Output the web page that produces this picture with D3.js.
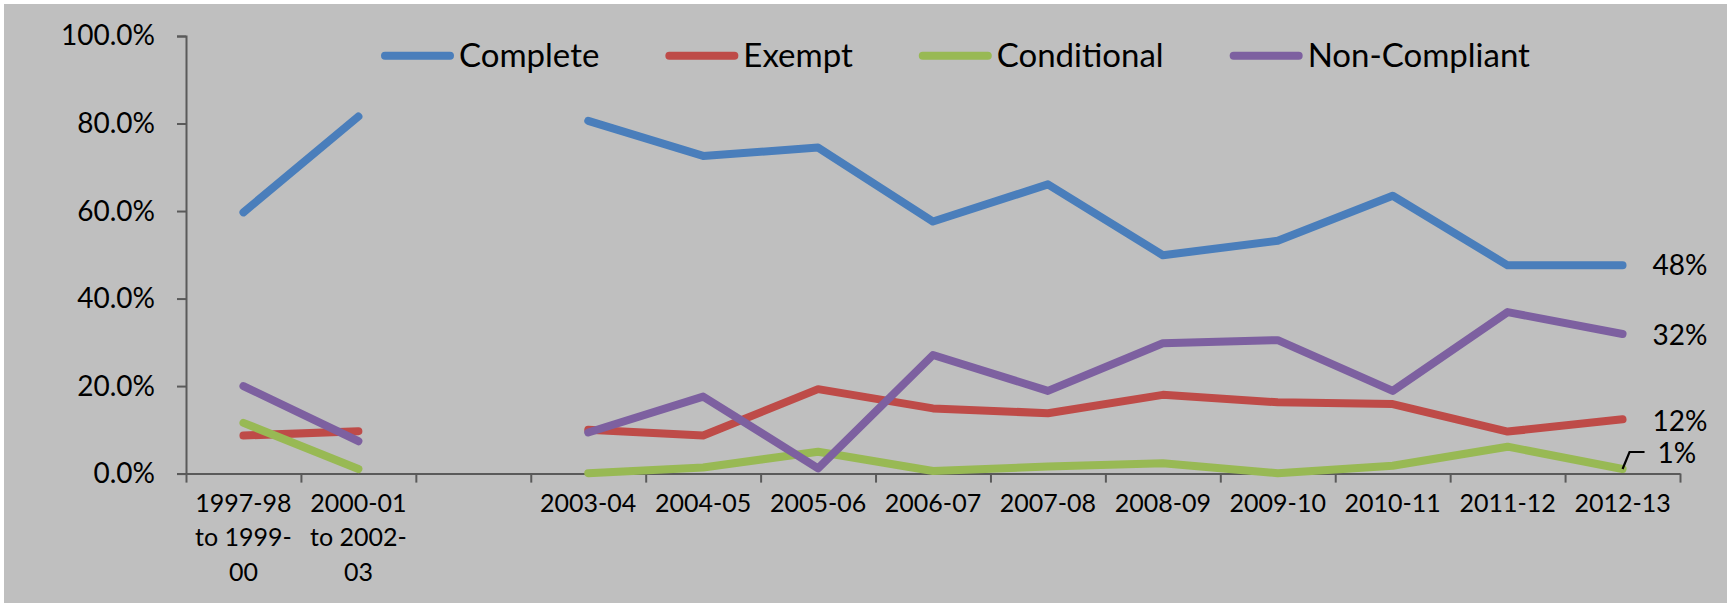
<!DOCTYPE html>
<html>
<head>
<meta charset="utf-8">
<script src="https://cdn.jsdelivr.net/npm/d3@7"></script>
<style>
  html, body { margin: 0; padding: 0; background: #ffffff; }
  svg { display: block; }
  text { font-family: Lato, "Open Sans", sans-serif; fill: #000; }
</style>
</head>
<body>
<svg id="chart" width="1727" height="603"></svg>
<script>
// Compliance status shares by reporting period (blank period leaves a gap)
const categories = [
  "1997-98 to 1999-00", "2000-01 to 2002-03", "",
  "2003-04", "2004-05", "2005-06", "2006-07", "2007-08",
  "2008-09", "2009-10", "2010-11", "2011-12", "2012-13"
];
const tickLabels = [
  ["1997-98", "to 1999-", "00"], ["2000-01", "to 2002-", "03"], [],
  ["2003-04"], ["2004-05"], ["2005-06"], ["2006-07"], ["2007-08"],
  ["2008-09"], ["2009-10"], ["2010-11"], ["2011-12"], ["2012-13"]
];
const complete      = [0.597, 0.816, null, 0.806, 0.726, 0.745, 0.576, 0.661, 0.499, 0.532, 0.635, 0.476, 0.476];
const exempt        = [0.087, 0.097, null, 0.100, 0.087, 0.193, 0.149, 0.138, 0.180, 0.163, 0.159, 0.096, 0.124];
const conditional   = [0.116, 0.0105, null, 0.001, 0.014, 0.050, 0.006, 0.016, 0.0235, 0.001, 0.018, 0.0615, 0.0105];
const nonCompliant  = [0.200, 0.074, null, 0.094, 0.176, 0.012, 0.271, 0.189, 0.298, 0.305, 0.189, 0.369, 0.319];
const seriesNames   = ["Complete", "Exempt", "Conditional", "Non-Compliant"];
const seriesColors  = ["#4a7ebb", "#be4b48", "#98b954", "#7d60a0"];
const yTicks        = [0, 0.2, 0.4, 0.6, 0.8, 1.0];

const series = [complete, exempt, conditional, nonCompliant].map((values, i) => ({
  name: seriesNames[i], color: seriesColors[i], values
}));

const svg = d3.select("#chart");

// chart area background
svg.append("rect")
  .attr("x", 4).attr("y", 4)
  .attr("width", 1723).attr("height", 599)
  .attr("fill", "#bfbfbf");

const plot = { left: 186, right: 1680, top: 36, bottom: 473.6 };

const x = d3.scaleBand().domain(d3.range(categories.length)).range([plot.left, plot.right]).padding(0);
const xEdge = d3.scaleLinear().domain([0, categories.length]).range([plot.left, plot.right]);
const y = d3.scaleLinear().domain([0, 1]).range([plot.bottom, plot.top]);
const cx = i => x(i) + x.bandwidth() / 2;

const axisColor = "#5a5a5a";

// y axis
const yAxis = svg.append("g")
  .attr("transform", `translate(${plot.left},0)`)
  .call(d3.axisLeft(y).tickValues(yTicks).tickFormat(d3.format(".1%")).tickSize(9).tickPadding(22));
yAxis.select(".domain").attr("stroke", axisColor).attr("stroke-width", 2);
yAxis.selectAll(".tick line").attr("stroke", axisColor).attr("stroke-width", 2);
yAxis.selectAll(".tick text")
  .style("font-family", "Lato, sans-serif").style("font-size", "28px").attr("fill", "#000");

// x axis: ticks sit between categories
const xAxis = svg.append("g")
  .attr("transform", `translate(0,${plot.bottom})`)
  .call(d3.axisBottom(xEdge).tickValues(d3.range(categories.length + 1)).tickFormat("").tickSize(9).tickSizeOuter(0));
xAxis.select(".domain").attr("stroke", axisColor).attr("stroke-width", 2);
xAxis.selectAll(".tick line").attr("stroke", axisColor).attr("stroke-width", 2);

// category labels centred under each band
const labelG = svg.append("g");
tickLabels.forEach((lines, i) => {
  const t = labelG.append("text")
    .attr("x", cx(i)).attr("y", plot.bottom + 38)
    .attr("text-anchor", "middle")
    .style("font-size", "25px");
  lines.forEach((ln, k) => {
    t.append("tspan").attr("x", cx(i)).attr("dy", k === 0 ? 0 : 34.5).text(ln);
  });
});

// series lines
const line = d3.line()
  .defined(d => d.v != null)
  .x(d => cx(d.i))
  .y(d => y(d.v));

svg.append("g").selectAll("path")
  .data(series)
  .join("path")
  .attr("d", s => line(s.values.map((v, i) => ({ i, v }))))
  .attr("fill", "none")
  .attr("stroke", s => s.color)
  .attr("stroke-width", 8)
  .attr("stroke-linecap", "round")
  .attr("stroke-linejoin", "round");

// end-of-line value labels
const pct = d3.format(".0%");
const last = categories.length - 1;
const labelShift = { "Complete": 0, "Exempt": 2, "Conditional": -16, "Non-Compliant": 1 };
series.forEach(s => {
  const v = s.values[last];
  const px = cx(last), py = y(v);
  const dy = labelShift[s.name];
  if (s.name === "Conditional") {
    // leader from the point up to the lifted label
    svg.append("path")
      .attr("d", d3.line()([[px, py], [px + 7, py + dy - 1], [px + 22, py + dy - 1]]))
      .attr("fill", "none").attr("stroke", "#000").attr("stroke-width", 2.2);
  }
  svg.append("text")
    .attr("x", px + (s.name === "Conditional" ? 35 : 30))
    .attr("y", py + dy)
    .attr("dy", "0.35em")
    .style("font-size", "28px")
    .text(pct(v));
});

// legend across the top
const legend = svg.append("g");
let lx = 381;
const ly = 55.7;
series.forEach(s => {
  legend.append("line")
    .attr("x1", lx + 4).attr("x2", lx + 69)
    .attr("y1", ly).attr("y2", ly)
    .attr("stroke", s.color).attr("stroke-width", 8).attr("stroke-linecap", "round");
  const t = legend.append("text")
    .attr("x", lx + 78).attr("y", ly).attr("dy", "0.35em")
    .style("font-size", "33px")
    .text(s.name);
  lx += 78 + t.node().getComputedTextLength() + 66;
});
</script>
</body>
</html>
